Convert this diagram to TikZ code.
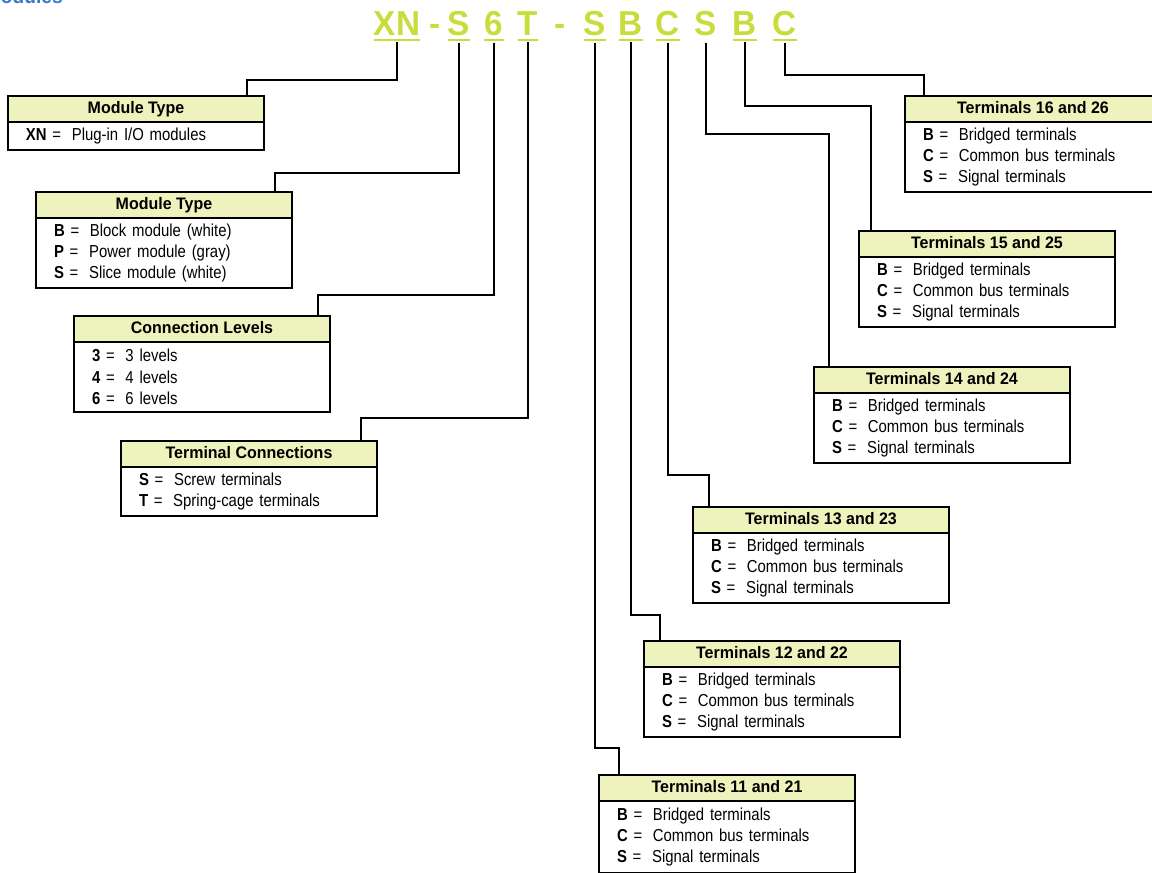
\documentclass[tikz,border=0pt]{standalone}
\usepackage{fontspec}
\setmainfont{Liberation Sans}[FakeStretch=0.86]
\newfontfamily\headfont{Liberation Sans}[FakeStretch=0.96]
\usepackage{tikz}
\usetikzlibrary{
    positioning
}
\usepackage{xcolor}
\definecolor{codegreen}{RGB}{200,220,60}
\definecolor{headfill}{RGB}{238,242,188}
\definecolor{titleblue}{RGB}{60,120,200}
\newcommand{\keyrow}[2]{\textbf{#1} =\hspace{8pt}#2}

\begin{document}
\begin{tikzpicture}[
        x=0.75pt,
        y=-0.75pt,
        code/.style={
            font=\headfont\bfseries\fontsize{26}{26}\selectfont,
            text=codegreen,
            inner xsep=0pt,
            inner ysep=5.25pt,
            anchor=base
        },
        uline/.style={
            draw=codegreen,
            line width=1.5pt
        },
        head/.style={
            draw,
            line width=1.2pt,
            fill=headfill,
            minimum width=192pt,
            minimum height=19.5pt,
            inner sep=0pt,
            outer sep=0pt,
            text height=9.3pt,
            text depth=2.6pt,
            font=\headfont\bfseries\fontsize{12.5}{14}\selectfont,
            anchor=north west
        },
        body/.style={
            draw,
            line width=1.2pt,
            minimum width=192pt,
            text width=165pt,
            inner xsep=13.5pt,
            inner ysep=0pt,
            outer sep=0pt,
            align=left,
            font=\fontsize{13}{16}\selectfont
        },
        conn/.style={
            line width=1.5pt
        }
    ]
        \useasboundingbox (0,0) rectangle (1152,872);

        % heading, cut off by the page
        \node[font=\headfont\bfseries\fontsize{15}{15}\selectfont, text=titleblue,
              anchor=base east, inner sep=0pt] (title) at (63,3) {Modules};

        % catalog number
        \node[code] (cXN) at (397,35) {XN};
        \node[code] (d1) at (435,35) {-};
        \node[code] (cS1) at (459,35) {S};
        \node[code] (c6) at (494,35) {6};
        \node[code] (cT) at (528,35) {T};
        \node[code] (d2) at (560,35) {-};
        \node[code] (cS2) at (595,35) {S};
        \node[code] (cB1) at (631,35) {B};
        \node[code] (cC1) at (668,35) {C};
        \node[code] (cS3) at (706,35) {S};
        \node[code] (cB2) at (745,35) {B};
        \node[code] (cC2) at (785,35) {C};
        \foreach \c in {cXN,cS1,c6,cT,cS2,cB1,cC1,cB2,cC2}
            \draw[uline] ([yshift=1.9pt]\c.south west) -- ([yshift=1.9pt]\c.south east);

        % left boxes
        \node[head] (m1h) at (8,96) {Module Type};
        \node[body, below=0pt of m1h, minimum height=21pt] (m1b)
            {\keyrow{XN}{Plug-in I/O modules}};
        \node[head] (m2h) at (36,192) {Module Type};
        \node[body, below=0pt of m2h, minimum height=52.5pt] (m2b)
            {\keyrow{B}{Block module (white)}\\ \keyrow{P}{Power module (gray)}\\ \keyrow{S}{Slice module (white)}};
        \node[head] (m3h) at (74,316) {Connection Levels};
        \node[body, below=0pt of m3h, minimum height=52.5pt] (m3b)
            {\keyrow{3}{3 levels}\\ \keyrow{4}{4 levels}\\ \keyrow{6}{6 levels}};
        \node[head] (m4h) at (121,441) {Terminal Connections};
        \node[body, below=0pt of m4h, minimum height=36.75pt] (m4b)
            {\keyrow{S}{Screw terminals}\\ \keyrow{T}{Spring-cage terminals}};

        % right boxes
        \node[head] (t16h) at (905,96) {Terminals 16 and 26};
        \node[body, below=0pt of t16h, minimum height=52.5pt] (t16b)
            {\keyrow{B}{Bridged terminals}\\ \keyrow{C}{Common bus terminals}\\ \keyrow{S}{Signal terminals}};
        \node[head] (t15h) at (859,231) {Terminals 15 and 25};
        \node[body, below=0pt of t15h, minimum height=52.5pt] (t15b)
            {\keyrow{B}{Bridged terminals}\\ \keyrow{C}{Common bus terminals}\\ \keyrow{S}{Signal terminals}};
        \node[head] (t14h) at (814,367) {Terminals 14 and 24};
        \node[body, below=0pt of t14h, minimum height=52.5pt] (t14b)
            {\keyrow{B}{Bridged terminals}\\ \keyrow{C}{Common bus terminals}\\ \keyrow{S}{Signal terminals}};
        \node[head] (t13h) at (693,507) {Terminals 13 and 23};
        \node[body, below=0pt of t13h, minimum height=52.5pt] (t13b)
            {\keyrow{B}{Bridged terminals}\\ \keyrow{C}{Common bus terminals}\\ \keyrow{S}{Signal terminals}};
        \node[head] (t12h) at (644,641) {Terminals 12 and 22};
        \node[body, below=0pt of t12h, minimum height=52.5pt] (t12b)
            {\keyrow{B}{Bridged terminals}\\ \keyrow{C}{Common bus terminals}\\ \keyrow{S}{Signal terminals}};
        \node[head] (t11h) at (599,775) {Terminals 11 and 21};
        \node[body, below=0pt of t11h, minimum height=54pt] (t11b)
            {\keyrow{B}{Bridged terminals}\\ \keyrow{C}{Common bus terminals}\\ \keyrow{S}{Signal terminals}};

        % connectors
        \draw[conn] (cXN.south) -- ++(0,38) -| ([xshift=-12.75pt]m1h.north east);
        \draw[conn] (cS1.south) -- ++(0,130) -| ([xshift=-12.75pt]m2h.north east);
        \draw[conn] (c6.south) -- ++(0,252) -| ([xshift=-9pt]m3h.north east);
        \draw[conn] (cT.south) -- ++(0,376) -| ([xshift=-12pt]m4h.north east);
        \draw[conn] (cS2.south) -- ++(0,705) -| ([xshift=15pt]t11h.north west);
        \draw[conn] (cB1.south) -- ++(0,573) -| ([xshift=12pt]t12h.north west);
        \draw[conn] (cC1.south) -- ++(0,432) -| ([xshift=12pt]t13h.north west);
        \draw[conn] (cS3.south) -- ++(0,91) -| ([xshift=11.25pt]t14h.north west);
        \draw[conn] (cB2.south) -- ++(0,64) -| ([xshift=9pt]t15h.north west);
        \draw[conn] (cC2.south) -- ++(0,32) -| ([xshift=14.25pt]t16h.north west);
    \end{tikzpicture}
\end{document}
